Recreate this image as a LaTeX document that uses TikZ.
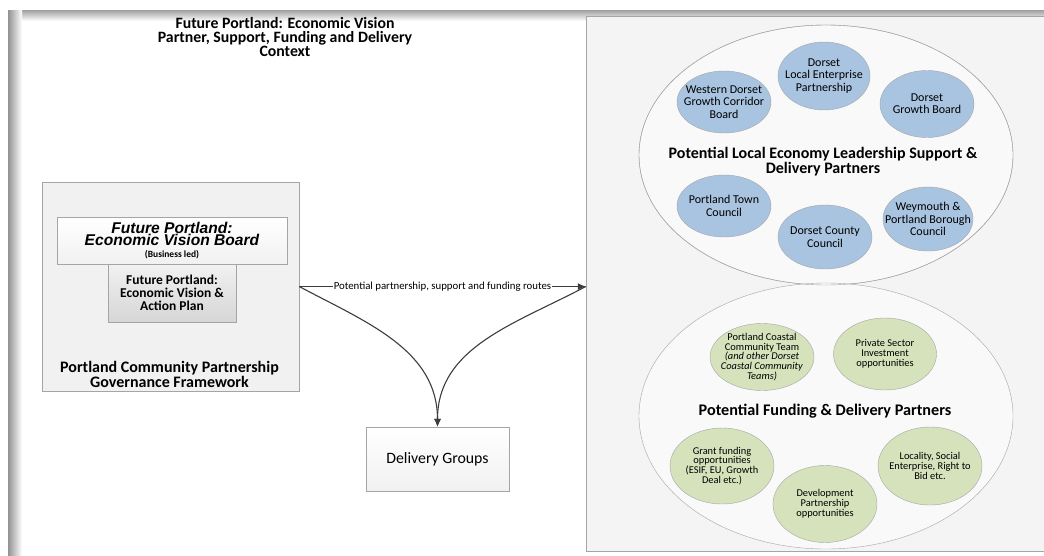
\documentclass[tikz,border=0pt]{standalone}
\usepackage{fontspec}
\setmainfont{Carlito}
\newfontfamily\arialfont{Liberation Sans}
\usetikzlibrary{shapes,arrows,arrows.meta,positioning}
\definecolor{framegray}{RGB}{165,165,165}
\definecolor{panelgray}{RGB}{244,244,244}
\definecolor{boxgray}{RGB}{241,241,241}
\definecolor{plangray}{RGB}{214,214,214}
\definecolor{ringwhite}{RGB}{249,249,249}
\definecolor{leaderblue}{RGB}{169,196,224}
\definecolor{fundgreen}{RGB}{214,226,188}
\definecolor{linedark}{RGB}{60,60,60}
\newcommand{\boardfont}{\arialfont\fontsize{15.6}{15.5}\selectfont\bfseries\itshape}

\tikzset{
  panel/.style={draw=framegray, inner sep=0pt},
  ring/.style={ellipse, draw=framegray, fill=ringwhite, inner sep=0pt},
  leader/.style={ellipse, draw=framegray, fill=leaderblue, inner xsep=-12pt, inner ysep=-4pt, align=center,
    font=\fontsize{12}{12.3}\selectfont},
  funder/.style={ellipse, draw=framegray, fill=fundgreen, inner xsep=-12pt, inner ysep=-4pt, align=center,
    font=\fontsize{10.4}{9.8}\selectfont},
  heading/.style={align=center, font=\fontsize{16}{14.5}\selectfont\bfseries},
  route/.style={draw=linedark, line width=1.1pt, -{Latex[length=8pt,width=7pt]}}
}

\begin{document}
\begin{tikzpicture}[x=1pt, y=-1pt]
    \useasboundingbox (0,0) rectangle (1044,555);
    % page shadow
    \shade[top color=gray!75, bottom color=white] (8,10) rectangle (1044,21);
    \shade[left color=gray!85, right color=white] (8,10) rectangle (22,555);

    \node[heading, font=\fontsize{15.8}{14}\selectfont\bfseries] (title) at (285,37) {Future Portland: Economic Vision\\Partner, Support, Funding and Delivery\\Context};

    % left governance panel
    \node[panel, fill=boxgray, minimum width=257pt, minimum height=209pt] (lbox) at (170.5,286.5) {};
    \node[draw=framegray, top color=white, bottom color=boxgray, minimum width=230pt, minimum height=47pt, inner sep=0pt] (board) at (172,240.5) {};
    \node[align=center, inner sep=0pt] (boardtext) at (172,240.5) {
        \boardfont Future Portland:\\
        \boardfont Economic Vision Board\\[-0.5pt]
        \fontsize{9.5}{10}\selectfont\bfseries (Business led)
    };
    \node[draw=framegray, top color=boxgray, bottom color=plangray, minimum width=128pt, minimum height=58pt, inner sep=0pt, align=center, font=\fontsize{13.5}{12.7}\selectfont\bfseries] (plan) at (172,293) {Future Portland:\\Economic Vision \&\\Action Plan};
    \node[heading, font=\fontsize{16}{15}\selectfont\bfseries] (gov) at (169.5,374.5) {Portland Community Partnership\\Governance Framework};

    % delivery groups
    \node[draw=framegray, top color=white, bottom color=boxgray, minimum width=143pt, minimum height=64pt, font=\fontsize{15.8}{16}\selectfont] (dg) at (437.5,459) {Delivery Groups};

    % right partner panel
    \node[panel, fill=panelgray, minimum width=470pt, minimum height=535pt] (rbox) at (821,283.5) {};
    \node[ring, minimum width=374pt, minimum height=260pt] (lead) at (826,155) {};
    \node[ring, minimum width=374pt, minimum height=266pt] (fund) at (826,416) {};
    \draw[framegray] (lead.center) ellipse (187pt and 130pt);

    \node[heading, font=\fontsize{16}{15}\selectfont\bfseries] (leadtitle) at (823,161.5) {Potential Local Economy Leadership Support \&\\Delivery Partners};
    \node[leader, minimum width=94pt, minimum height=62pt] (wdgc) at (724,102) {Western Dorset\\Growth Corridor\\Board};
    \node[leader, minimum width=92pt, minimum height=68pt] (lep) at (824,76) {Dorset\\Local Enterprise\\Partnership};
    \node[leader, minimum width=94pt, minimum height=67pt] (dgb) at (927,104) {Dorset\\Growth Board};
    \node[leader, minimum width=94pt, minimum height=62pt] (ptc) at (724,206) {Portland Town\\Council};
    \node[leader, minimum width=94pt, minimum height=64pt] (dcc) at (825,237) {Dorset County\\Council};
    \node[leader, minimum width=90pt, minimum height=64pt] (wpbc) at (928,219) {Weymouth \&\\Portland Borough\\Council};

    \node[heading, font=\fontsize{16.2}{15}\selectfont\bfseries] (fundtitle) at (825,411) {Potential Funding \& Delivery Partners};
    \node[funder, minimum width=104pt, minimum height=67pt] (pcct) at (762,357) {Portland Coastal\\Community Team\\\textit{(and other Dorset}\\\textit{Coastal Community}\\\textit{Teams)}};
    \node[funder, minimum width=103pt, minimum height=72pt] (psi) at (885,354) {Private Sector\\Investment\\opportunities};
    \node[funder, minimum width=104pt, minimum height=76pt] (grant) at (722,466) {Grant funding\\opportunities\\(ESIF, EU, Growth\\Deal etc.)};
    \node[funder, minimum width=104pt, minimum height=77pt] (dev) at (825,504) {Development\\Partnership\\opportunities};
    \node[funder, minimum width=104pt, minimum height=78pt] (loc) at (930,466) {Locality, Social\\Enterprise, Right to\\Bid etc.};

    % routes
    \coordinate (rin) at (rbox.west |- lbox.east);
    \draw[route] (lbox.east) -- node[fill=white, inner sep=1pt, font=\fontsize{10.8}{10}\selectfont] (routes) {Potential partnership, support and funding routes} (rin);
    \draw[route] (lbox.east) to[out=-28, in=90] (dg.north);
    \draw[route] (rin) to[out=-152, in=90] (dg.north);
\end{tikzpicture}
\end{document}
